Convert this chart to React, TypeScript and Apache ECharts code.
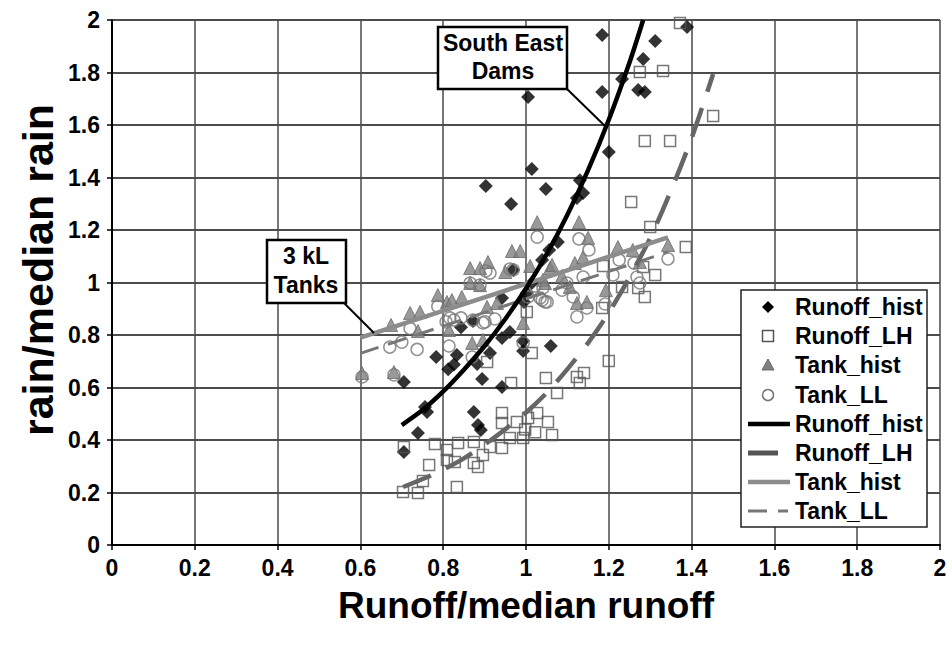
import React, { useEffect, useRef } from "react";
import * as echarts from "echarts";

// ---- Data ----
const xTickLabels = ["0", "0.2", "0.4", "0.6", "0.8", "1", "1.2", "1.4", "1.6", "1.8", "2"];
const yTickLabels = ["0", "0.2", "0.4", "0.6", "0.8", "1", "1.2", "1.4", "1.6", "1.8", "2"];

const runoffHist: [number, number][] = [
  [0.705, 0.354], [0.705, 0.621], [0.739, 0.427], [0.756, 0.526], [0.761, 0.507],
  [0.783, 0.716], [0.833, 0.724], [0.812, 0.67], [0.826, 0.688], [0.843, 0.83],
  [0.872, 0.853], [0.874, 0.507], [0.884, 0.457], [0.891, 0.438], [0.882, 0.69],
  [0.894, 0.632], [0.913, 0.731], [0.942, 0.602], [0.942, 0.941], [0.942, 0.789],
  [0.961, 0.811], [0.993, 0.777], [0.993, 0.739], [1.06, 0.758], [0.903, 1.368],
  [0.964, 1.299], [1.005, 1.707], [1.014, 1.432], [1.048, 1.356], [1.13, 1.39],
  [1.138, 1.341], [1.123, 1.322], [1.077, 1.154], [1.056, 1.124], [1.039, 1.086],
  [1.014, 0.998], [1.002, 0.96], [0.995, 0.926], [0.969, 1.048], [1.184, 1.943],
  [1.312, 1.92], [1.283, 1.851], [1.389, 1.973], [1.232, 1.775], [1.184, 1.726],
  [1.271, 1.733], [1.287, 1.726], [1.2, 1.497],
];

const runoffLH: [number, number][] = [
  [0.703, 0.202], [0.739, 0.198], [0.751, 0.244], [0.766, 0.305], [0.705, 0.373],
  [0.78, 0.385], [0.809, 0.362], [0.809, 0.324], [0.828, 0.316], [0.833, 0.221],
  [0.836, 0.389], [0.874, 0.392], [0.874, 0.312], [0.884, 0.297], [0.896, 0.343],
  [0.913, 0.373], [0.942, 0.37], [0.942, 0.503], [0.942, 0.465], [0.961, 0.408],
  [0.978, 0.469], [0.993, 0.408], [0.998, 0.44], [1.005, 0.484], [1.027, 0.503],
  [1.022, 0.43], [1.053, 0.469], [1.063, 0.419], [0.964, 0.617], [0.906, 0.697],
  [1.002, 0.888], [1.014, 0.731], [1.048, 0.636], [1.075, 0.579], [1.123, 0.64],
  [1.14, 0.655], [1.13, 0.617], [1.2, 0.701], [1.184, 0.903], [1.186, 1.063],
  [1.232, 0.983], [1.271, 0.979], [1.287, 0.945], [1.312, 1.029], [1.283, 1.059],
  [1.254, 1.307], [1.3, 1.211], [1.386, 1.135], [1.275, 1.802], [1.331, 1.806],
  [1.287, 1.539], [1.348, 1.539], [1.452, 1.634], [1.372, 1.989],
];

const tankHist: [number, number][] = [
  [0.604, 0.655], [0.681, 0.659], [0.674, 0.838], [0.72, 0.884], [0.744, 0.888],
  [0.739, 0.815], [0.787, 0.952], [0.809, 0.926], [0.821, 0.933], [0.845, 0.945],
  [0.814, 0.819], [0.865, 1.055], [0.889, 1.055], [0.908, 1.078], [0.865, 0.998],
  [0.889, 0.99], [0.906, 0.907], [0.93, 0.922], [0.87, 0.77], [0.896, 0.781],
  [0.966, 1.12], [0.986, 1.12], [1.027, 1.23], [1.01, 1.063], [1.058, 1.055],
  [0.993, 0.846], [1.041, 1.01], [1.128, 1.23], [1.15, 1.17], [1.222, 1.135],
  [1.258, 1.124], [1.343, 1.143], [1.118, 1.074], [1.063, 1.067], [1.138, 1.097],
  [1.087, 1.025], [1.275, 1.078], [1.193, 0.971], [1.123, 0.922], [1.147, 0.926],
  [1.106, 0.983], [1.046, 0.998], [0.95, 1.04],
];

const tankLL: [number, number][] = [
  [0.604, 0.64], [0.681, 0.648], [0.671, 0.754], [0.7, 0.773], [0.737, 0.745],
  [0.72, 0.825], [0.787, 0.909], [0.807, 0.85], [0.826, 0.857], [0.843, 0.865],
  [0.814, 0.758], [0.901, 0.85], [0.913, 1.036], [0.889, 0.99], [0.865, 0.998],
  [0.87, 0.716], [0.925, 0.861], [0.969, 1.048], [1.027, 1.173], [0.961, 1.051],
  [0.903, 1.044], [0.816, 0.865], [0.896, 0.846], [1.005, 0.945], [1.034, 0.941],
  [1.046, 0.926], [0.993, 0.77], [0.872, 0.857], [1.128, 1.166], [1.152, 1.124],
  [1.225, 1.086], [1.261, 1.074], [1.343, 1.09], [1.022, 0.987], [1.051, 0.926],
  [1.087, 0.971], [1.114, 0.945], [1.123, 0.869], [1.147, 0.903], [1.21, 1.029],
  [1.191, 0.918], [1.268, 1.021], [1.275, 0.998], [1.138, 1.021], [1.099, 0.998],
  [1.041, 0.979], [1.039, 0.933],
];

// trend lines
const runoffHistTrend: [number, number][] = [
  [0.7, 0.457], [0.75, 0.514], [0.8, 0.585], [0.85, 0.668], [0.9, 0.758],
  [0.95, 0.861], [1.0, 0.977], [1.05, 1.108], [1.1, 1.258], [1.15, 1.428],
  [1.2, 1.62], [1.25, 1.838], [1.283, 2.0],
];
const runoffLHTrend: [number, number][] = [
  [0.703, 0.221], [0.775, 0.268], [0.85, 0.33], [0.925, 0.411], [1.0, 0.505],
  [1.05, 0.58], [1.1, 0.67], [1.15, 0.77], [1.2, 0.885], [1.25, 1.02],
  [1.3, 1.17], [1.35, 1.35], [1.4, 1.55], [1.452, 1.794],
];
const tankHistTrend: [number, number][] = [[0.6, 0.79], [1.0, 0.995], [1.343, 1.172]];
const tankLLTrend: [number, number][] = [[0.6, 0.73], [1.0, 0.938], [1.343, 1.116]];

const legendLabels = [
  "Runoff_hist", "Runoff_LH", "Tank_hist", "Tank_LL",
  "Runoff_hist", "Runoff_LH", "Tank_hist", "Tank_LL",
];

const FONT = 'Arial, "Liberation Sans", Helvetica, sans-serif';

export default function App() {
  const ref = useRef<HTMLDivElement>(null);

  useEffect(() => {
    if (!ref.current) return;
    const chart = echarts.init(ref.current, undefined, { renderer: "svg" });

    const fmt = (labels: string[]) => (v: number) => labels[Math.round(v / 0.2)] ?? String(v);

    // legend graphic
    const lgX = 741, lgY = 290, lgW = 186, lgH = 237;
    const rowY = [307, 336, 365, 395, 424, 453, 482, 511];
    const mx = 768;
    const legendEls: any[] = [
      { type: "rect", shape: { x: lgX, y: lgY, width: lgW, height: lgH }, style: { fill: "#fff", stroke: "#222", lineWidth: 1.5 }, z: 100 },
      { type: "polygon", shape: { points: [[mx, rowY[0] - 6], [mx + 6, rowY[0]], [mx, rowY[0] + 6], [mx - 6, rowY[0]]] }, style: { fill: "#000" }, z: 101 },
      { type: "rect", shape: { x: mx - 5.5, y: rowY[1] - 5.5, width: 11, height: 11 }, style: { fill: "#fff", stroke: "#555", lineWidth: 1.5 }, z: 101 },
      { type: "polygon", shape: { points: [[mx, rowY[2] - 6], [mx + 6, rowY[2] + 5], [mx - 6, rowY[2] + 5]] }, style: { fill: "#808080", stroke: "#6a6a6a", lineWidth: 1 }, z: 101 },
      { type: "circle", shape: { cx: mx, cy: rowY[3], r: 5.5 }, style: { fill: "#fff", stroke: "#777", lineWidth: 1.5 }, z: 101 },
      { type: "line", shape: { x1: 748, y1: rowY[4], x2: 790, y2: rowY[4] }, style: { stroke: "#000", lineWidth: 4.5 }, z: 101 },
      { type: "line", shape: { x1: 748, y1: rowY[5], x2: 778, y2: rowY[5] }, style: { stroke: "#555", lineWidth: 5 }, z: 101 },
      { type: "line", shape: { x1: 748, y1: rowY[6], x2: 790, y2: rowY[6] }, style: { stroke: "#8c8c8c", lineWidth: 4.5 }, z: 101 },
      { type: "line", shape: { x1: 748, y1: rowY[7], x2: 767, y2: rowY[7] }, style: { stroke: "#777", lineWidth: 3 }, z: 101 },
      { type: "line", shape: { x1: 778, y1: rowY[7], x2: 788, y2: rowY[7] }, style: { stroke: "#777", lineWidth: 3 }, z: 101 },
    ];
    legendLabels.forEach((t, i) => {
      legendEls.push({
        type: "text", x: 795, y: rowY[i], z: 102,
        style: { text: t, fontSize: 23, fontWeight: "bold", fontFamily: FONT, fill: "#000", align: "left", verticalAlign: "middle", textAlign: "left", textVerticalAlign: "middle" },
      });
    });

    const annotEls: any[] = [
      { type: "line", shape: { x1: 567, y1: 89, x2: 605, y2: 126 }, style: { stroke: "#000", lineWidth: 2 }, z: 100 },
      { type: "rect", shape: { x: 438, y: 27, width: 129, height: 62 }, style: { fill: "#fff", stroke: "#000", lineWidth: 2.5 }, z: 101 },
      { type: "text", x: 503, y: 43, z: 102, style: { text: "South East", fontSize: 23, fontWeight: "bold", fontFamily: FONT, fill: "#000", align: "center", verticalAlign: "middle", textAlign: "center", textVerticalAlign: "middle" } },
      { type: "text", x: 503, y: 71, z: 102, style: { text: "Dams", fontSize: 23, fontWeight: "bold", fontFamily: FONT, fill: "#000", align: "center", verticalAlign: "middle", textAlign: "center", textVerticalAlign: "middle" } },
      { type: "line", shape: { x1: 344, y1: 303, x2: 374, y2: 333 }, style: { stroke: "#000", lineWidth: 2 }, z: 100 },
      { type: "rect", shape: { x: 267, y: 240, width: 79, height: 63 }, style: { fill: "#fff", stroke: "#000", lineWidth: 2.5 }, z: 101 },
      { type: "text", x: 306, y: 256, z: 102, style: { text: "3 kL", fontSize: 23, fontWeight: "bold", fontFamily: FONT, fill: "#000", align: "center", verticalAlign: "middle", textAlign: "center", textVerticalAlign: "middle" } },
      { type: "text", x: 306, y: 285, z: 102, style: { text: "Tanks", fontSize: 23, fontWeight: "bold", fontFamily: FONT, fill: "#000", align: "center", verticalAlign: "middle", textAlign: "center", textVerticalAlign: "middle" } },
      // y-axis title
      { type: "text", x: 38, y: 270, rotation: Math.PI / 2, z: 102, style: { text: "rain/median rain", fontSize: 43, fontWeight: "bold", fontFamily: FONT, fill: "#000", align: "center", verticalAlign: "middle", textAlign: "center", textVerticalAlign: "middle" } },
    ];

    const axisLabelStyle = { fontSize: 23, fontWeight: "bold" as const, fontFamily: FONT, color: "#000" };

    chart.setOption({
      animation: false,
      backgroundColor: "#fff",
      grid: { left: 112, right: 12, top: 20, bottom: 103, containLabel: false, outerBoundsMode: "none" },
      xAxis: {
        type: "value", min: 0, max: 2, interval: 0.2,
        name: "Runoff/median runoff", nameLocation: "middle", nameGap: 42,
        nameTextStyle: { fontSize: 37, fontWeight: "bold", fontFamily: FONT, color: "#000" },
        axisLine: { show: true, onZero: false, lineStyle: { color: "#000", width: 2 } },
        axisTick: { show: true, length: 5, lineStyle: { color: "#000", width: 1.5 } },
        axisLabel: { ...axisLabelStyle, margin: 11, formatter: fmt(xTickLabels) },
        splitLine: { show: true, lineStyle: { color: "#4a4a4a", width: 1.5 } },
      },
      yAxis: {
        type: "value", min: 0, max: 2, interval: 0.2,
        axisLine: { show: true, onZero: false, lineStyle: { color: "#000", width: 2 } },
        axisTick: { show: true, length: 5, lineStyle: { color: "#000", width: 1.5 } },
        axisLabel: { ...axisLabelStyle, margin: 12, formatter: fmt(yTickLabels) },
        splitLine: { show: true, lineStyle: { color: "#111", width: 1.5 } },
      },
      series: [
        {
          name: "Runoff_hist", type: "scatter", data: runoffHist, symbol: "diamond", symbolSize: 14,
          itemStyle: { color: "#000" }, z: 2,
        },
        {
          name: "Runoff_LH", type: "scatter", data: runoffLH, symbol: "rect", symbolSize: 11,
          itemStyle: { color: "rgba(0,0,0,0)", borderColor: "#555", borderWidth: 1.5 }, z: 3,
        },
        {
          name: "Tank_hist", type: "scatter", data: tankHist, symbol: "triangle", symbolSize: 13,
          itemStyle: { color: "#808080", borderColor: "#6a6a6a", borderWidth: 1 }, z: 4,
        },
        {
          name: "Tank_LL", type: "scatter", data: tankLL, symbol: "circle", symbolSize: 12,
          itemStyle: { color: "rgba(0,0,0,0)", borderColor: "#777", borderWidth: 1.5 }, z: 5,
        },
        {
          name: "Runoff_hist trend", type: "line", data: runoffHistTrend, smooth: 0.3, symbol: "none",
          lineStyle: { color: "#000", width: 4.5 }, z: 8,
        },
        {
          name: "Runoff_LH trend", type: "line", data: runoffLHTrend, smooth: 0.3, symbol: "none",
          lineStyle: { color: "#666", width: 4.5, type: [30, 17] }, z: 7,
        },
        {
          name: "Tank_hist trend", type: "line", data: tankHistTrend, symbol: "none",
          lineStyle: { color: "#8c8c8c", width: 4.5 }, z: 7,
        },
        {
          name: "Tank_LL trend", type: "line", data: tankLLTrend, symbol: "none",
          lineStyle: { color: "#777", width: 3, type: [19, 10] }, z: 6,
        },
      ],
      graphic: [...annotEls, ...legendEls],
    });

    return () => chart.dispose();
  }, []);

  return (
    <div
      ref={ref}
      style={{ position: "absolute", left: 0, top: 0, width: 952, height: 648, background: "#fff" }}
    />
  );
}
